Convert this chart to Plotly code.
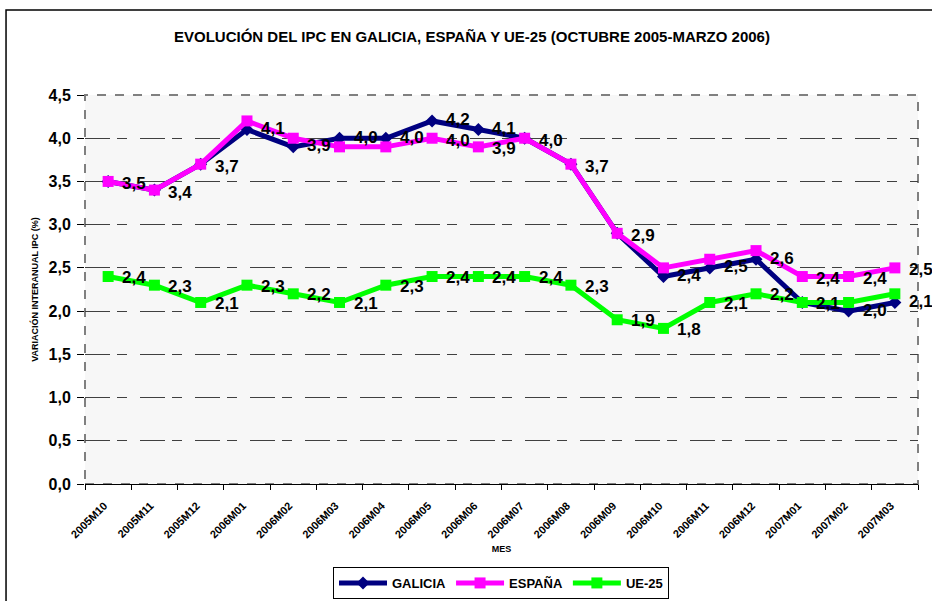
import plotly.graph_objects as go

months = ["2005M10", "2005M11", "2005M12", "2006M01", "2006M02", "2006M03",
          "2006M04", "2006M05", "2006M06", "2006M07", "2006M08", "2006M09",
          "2006M10", "2006M11", "2006M12", "2007M01", "2007M02", "2007M03"]
galicia = [3.5, 3.4, 3.7, 4.1, 3.9, 4.0, 4.0, 4.2, 4.1, 4.0, 3.7, 2.9, 2.4, 2.5, 2.6, 2.1, 2.0, 2.1]
espana = [3.5, 3.4, 3.7, 4.2, 4.0, 3.9, 3.9, 4.0, 3.9, 4.0, 3.7, 2.9, 2.5, 2.6, 2.7, 2.4, 2.4, 2.5]
ue25 = [2.4, 2.3, 2.1, 2.3, 2.2, 2.1, 2.3, 2.4, 2.4, 2.4, 2.3, 1.9, 1.8, 2.1, 2.2, 2.1, 2.1, 2.2]

# data labels that are visible (not hidden by overlap) in the original
galicia_show = [0, 0, 0, 1, 1, 1, 1, 1, 1, 0, 0, 0, 1, 1, 1, 0, 1, 1]
espana_show = [1, 1, 1, 0, 0, 0, 0, 1, 1, 1, 1, 1, 0, 0, 0, 1, 1, 1]
ue25_show = [1, 1, 1, 1, 1, 1, 1, 1, 1, 1, 1, 1, 1, 1, 1, 1, 0, 0]

series = [
    ("GALICIA", galicia, galicia_show, "#000080", "diamond", 10, 1),
    ("ESPAÑA", espana, espana_show, "#FF00FF", "square", 11, -2),
    ("UE-25", ue25, ue25_show, "#00FF00", "square", 11, -1),
]

FONT = "Liberation Sans, Arial, sans-serif"


def lbl(v):
    return f"{v:.1f}".replace(".", ",")


fig = go.Figure()
annotations = []
for name, vals, show, color, sym, msize, ysh in series:
    fig.add_trace(go.Scatter(
        x=months, y=vals, name=name, mode="lines+markers",
        line=dict(color=color, width=5),
        marker=dict(symbol=sym, size=msize, color=color),
    ))
    for m, v, s in zip(months, vals, show):
        if s:
            annotations.append(dict(
                x=m, y=v, xref="x", yref="y", text=lbl(v), showarrow=False,
                xanchor="left", yanchor="middle", xshift=12, yshift=ysh,
                font=dict(family=FONT, size=17, color="#000000", weight="bold"),
            ))

fig.update_layout(
    width=932, height=601,
    margin=dict(l=85, r=14, t=95, b=117, autoexpand=False),
    paper_bgcolor="#FFFFFF",
    plot_bgcolor="#F7F7F7",
    separators=",.",
    font=dict(family=FONT, color="#000000"),
    title=dict(
        text="<b>EVOLUCIÓN DEL IPC EN GALICIA, ESPAÑA Y UE-25 (OCTUBRE 2005-MARZO 2006)</b>",
        x=0.5064, xanchor="center", y=0.9384, yanchor="middle",
        font=dict(family=FONT, size=15, color="#000000"),
    ),
    showlegend=True,
    legend=dict(
        orientation="h", x=0.4994, xanchor="center", y=-0.2956, yanchor="bottom",
        bgcolor="#FFFFFF", bordercolor="#000000", borderwidth=1,
        font=dict(family=FONT, size=13, color="#000000", weight="bold"),
        itemwidth=48, tracegroupgap=0,
    ),
    xaxis=dict(
        type="category", range=[-0.5, 17.5], automargin=False,
        showgrid=False, showline=True, linecolor="#000000", linewidth=1,
        ticks="outside", ticklen=5, tickcolor="#000000", tickson="boundaries",
        tickangle=-45, ticklabelstandoff=10, ticklabelshift=-4,
        tickfont=dict(family=FONT, size=11, color="#000000", weight="bold"),
        title=dict(text="<b>MES</b>", font=dict(family=FONT, size=9, color="#000000"), standoff=6),
        zeroline=False,
    ),
    yaxis=dict(
        range=[0, 4.5], dtick=0.5, tick0=0, tickformat=".1f", automargin=False,
        showgrid=True, gridcolor="#404040", gridwidth=1, griddash="25px,7px,10px,13px",
        showline=False, zeroline=False,
        ticks="outside", ticklen=7, tickcolor="#000000", ticklabelstandoff=3,
        tickfont=dict(family=FONT, size=16, color="#000000", weight="bold"),
        title=dict(text="<b>VARIACIÓN INTERANUAL IPC (%)</b>",
                   font=dict(family=FONT, size=9, color="#000000"), standoff=8),
    ),
    annotations=annotations,
    shapes=[
        dict(type="rect", xref="paper", yref="paper", x0=0, x1=1, y0=0, y1=1,
             line=dict(color="#808080", width=2, dash="dash"), layer="below"),
        dict(type="rect", xref="paper", yref="paper",
             x0=-0.0948, x1=1.2, y0=-0.5, y1=1.2185,
             line=dict(color="#000000", width=1.5), layer="below"),
    ],
)

fig.write_html("out.html", config={"displayModeBar": False},
               post_script="document.body.style.margin='0';")
